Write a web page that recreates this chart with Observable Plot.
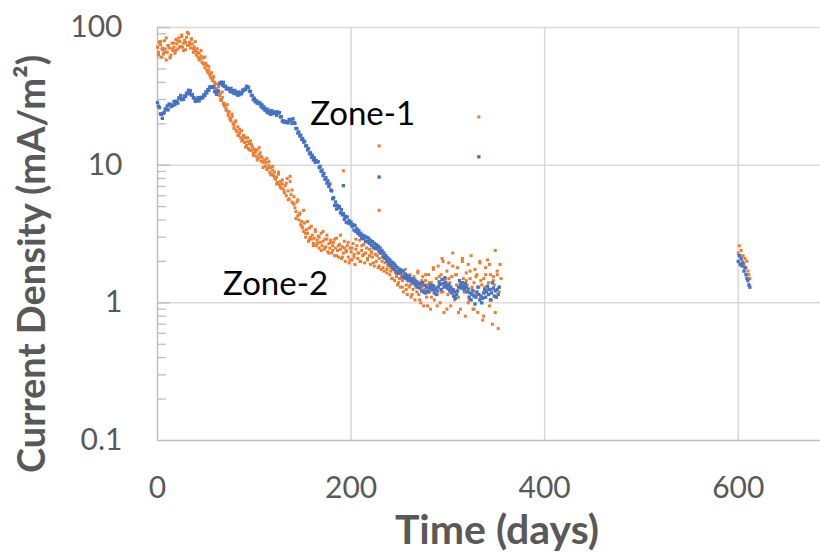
<!DOCTYPE html>
<html>
<head>
<meta charset="utf-8">
<script src="https://cdn.jsdelivr.net/npm/d3@7"></script>
<script src="https://cdn.jsdelivr.net/npm/@observablehq/plot@0.6"></script>
<style>
  html, body { margin: 0; padding: 0; background: #fff; }
  #chart { width: 820px; height: 554px; }
</style>
</head>
<body>
<div id="chart"></div>
<script>
// ---------- DATA ----------
// Zone-1 (blue): one reading per day, starting at day 0
const zone1Start = 0;
const zone1Values = [
  28.5, 26.8, 26.2, 23.6, 23.4, 21.9, 23.8, 24.2, 25.6, 25.4,
  26.9, 25.2, 27.8, 27.6, 26.6, 27.1, 27.2, 28.9, 27.5, 29.2,
  29.0, 28.2, 30.8, 30.4, 32.1, 29.9, 30.3, 30.1, 31.8, 31.6,
  33.4, 33.0, 35.0, 33.1, 34.7, 32.3, 32.6, 30.9, 30.7, 29.1,
  29.9, 29.4, 31.0, 29.3, 30.9, 30.5, 31.2, 30.9, 32.5, 32.1,
  34.0, 33.5, 35.4, 35.0, 37.0, 36.6, 37.1, 37.0, 36.7, 34.2,
  34.5, 32.7, 34.4, 34.5, 39.3, 39.5, 40.1, 38.1, 39.9, 37.3,
  37.6, 35.8, 36.4, 35.7, 35.8, 34.3, 36.1, 34.0, 34.7, 33.2,
  34.9, 33.0, 33.6, 32.2, 34.0, 32.6, 33.5, 33.1, 35.1, 34.7,
  35.6, 35.5, 37.4, 36.8, 36.8, 34.5, 34.3, 32.2, 32.0, 29.9,
  30.6, 28.9, 29.5, 28.2, 28.7, 27.9, 28.3, 26.6, 27.4, 25.9,
  26.5, 25.1, 25.6, 24.3, 25.4, 23.9, 24.5, 23.4, 24.9, 23.7,
  24.2, 23.8, 24.4, 23.0, 24.3, 23.9, 24.1, 22.4, 22.5, 20.9,
  21.0, 20.5, 20.8, 20.4, 20.6, 20.3, 21.5, 21.2, 21.4, 20.1,
  21.7, 20.4, 20.1, 18.5, 18.4, 17.1, 17.4, 16.3, 16.5, 15.4,
  15.6, 14.7, 14.9, 13.8, 13.9, 12.9, 13.2, 12.1, 12.3, 11.4,
  11.8, 10.9, 11.3, 10.5, 10.8, 10.6, 10.6, 9.6, 9.8, 9.0,
  9.2, 8.4, 8.7, 7.9, 8.1, 7.4, 7.7, 7.0, 7.3, 6.6,
  6.5, 5.7, 5.8, 5.1, 5.4, 4.8, 5.1, 4.9, 5.0, 4.5,
  4.75, 4.35, 4.45, 4.05, 4.25, 3.85, 4.2, 3.8, 3.95, 3.75,
  3.85, 3.6, 3.7, 3.38, 3.65, 3.3, 3.45, 3.2, 3.35, 3.1,
  3.2, 2.95, 3.1, 2.92, 3.05, 2.8, 3.0, 2.78, 2.95, 2.7,
  2.85, 2.62, 2.78, 2.52, 2.7, 2.48, 2.65, 2.5, 2.58, 2.36,
  2.5, 2.3, 2.4, 2.15, 2.3, 2.1, 2.2, 2.0, 2.12, 1.92,
  2.05, 1.88, 1.98, 1.8, 1.92, 1.74, 1.85, 1.68, 1.8, 1.64,
  1.75, 1.66, 1.72, 1.54, 1.7, 1.52, 1.62, 1.5, 1.58, 1.45,
  1.55, 1.46, 1.5, 1.42, 1.48, 1.38, 1.46, 1.35, 1.42, 1.3,
  1.38, 1.28, 1.36, 1.22, 1.4, 1.2, 1.34, 1.18, 1.3, 1.22,
  1.2, 1.28, 1.35, 1.3, 1.24, 1.33, 1.18, 1.26, 1.15, 1.22,
  1.3, 1.42, 1.36, 1.25, 1.48, 1.38, 1.3, 1.52, 1.4, 1.33,
  1.27, 1.35, 1.22, 1.3, 1.18, 1.25, 1.12, 1.2, 1.08, 1.15,
  1.22, 1.3, 1.45, 1.35, 1.28, 1.4, 1.32, 1.25, 1.38, 1.3,
  1.2, 1.26, 1.1, 1.18, 1.05, 1.15, 1.22, 1.12, 0.98, 1.1,
  1.2, 1.3, 1.15, 1.05, 1.12, 1.0, 1.08, 1.18, 1.25, 1.1,
  1.2, 1.32, 1.15, 1.25, 1.05, 1.18, 1.4, 1.28, 1.12, 1.22,
  1.1, 1.25, 1.15, 1.3
];

// Zone-2 (orange): one reading per day, starting at day 0
const zone2Start = 0;
const zone2Values = [
  72, 66, 78, 75, 61, 69, 64, 80, 70, 58,
  66, 74, 71, 60, 63, 77, 68, 72, 65, 82,
  76, 70, 84, 79, 73, 88, 72, 77, 81, 69,
  85, 74, 90, 78, 71, 82, 76, 66, 72, 68,
  63, 70, 61, 65, 59, 62, 56, 60, 54, 51,
  55, 49, 47, 52, 45, 43, 47, 41, 44, 38,
  39, 36, 34, 37, 32, 33, 29.5, 31, 28, 27,
  26.5, 25, 27.5, 23, 24.5, 22, 21, 23.5, 20, 19.5,
  20.5, 18, 17.5, 19, 16.4, 17.2, 15.8, 17.8, 15.2, 16,
  14.6, 15.8, 13.9, 14.8, 13.2, 14.3, 15, 12.8, 13.6, 12.2,
  13.1, 12.4, 11.6, 12.9, 11.2, 11.9, 12.3, 10.7, 11.4, 10.5,
  10.9, 9.8, 10.4, 11.2, 9.5, 9.9, 8.9, 9.6, 8.6, 9.2,
  8.4, 8.9, 7.9, 8.2, 7.5, 8.6, 7.2, 7.6, 6.8, 7.3,
  6.7, 6.3, 7.1, 6.0, 8.0, 6.5, 5.7, 7.6, 6.1, 5.4,
  5.3, 5.9, 4.9, 4.6, 5.4, 4.3, 4.0, 4.5, 3.7, 3.9,
  3.5, 3.3, 3.8, 3.0, 3.4, 3.2, 2.8, 3.5, 3.0, 2.9,
  3.1, 2.7, 2.95, 3.3, 2.6, 2.85, 3.05, 2.5, 2.75, 3.2,
  2.6, 2.8, 2.45, 2.9, 2.55, 3.1, 2.35, 2.7, 2.5, 2.85,
  2.3, 2.6, 2.75, 2.2, 2.5, 2.95, 2.4, 2.15, 2.65, 2.45,
  2.1, 2.55, 2.3, 2.8, 2.0, 2.4, 2.6, 2.15, 1.95, 2.5,
  2.35, 2.05, 2.7, 2.25, 1.9, 2.45, 2.6, 2.1, 2.3, 2.85,
  2.0, 2.4, 2.2, 2.65, 1.95, 2.3, 2.5, 2.05, 2.75, 2.2,
  1.9, 2.35, 2.15, 2.55, 1.85, 2.25, 2.0, 2.45, 1.8, 2.1,
  2.3, 1.75, 2.0, 2.2, 1.7, 1.95, 2.1, 1.65, 1.85, 2.0,
  1.6, 1.8, 1.5, 1.75, 1.95, 1.45, 1.65, 1.55, 1.35, 1.7,
  1.5, 1.3, 1.6, 1.45, 1.2, 1.55, 1.75, 1.35, 1.15, 1.45,
  1.3, 1.6, 1.1, 1.4, 1.25, 1.5, 1.05, 1.35, 1.2, 1.65,
  1.15, 1.4, 1.0, 1.3, 1.55, 0.95, 1.25, 1.45, 1.1, 1.35,
  1.6, 1.2, 0.9, 1.4, 1.3, 1.75, 1.05, 1.25, 1.5, 1.15,
  1.85, 1.35, 1.0, 1.6, 2.1, 1.2, 0.85, 1.45, 1.3, 1.7,
  1.15, 1.95, 1.4, 0.95, 1.55, 2.3, 1.25, 1.05, 1.6, 1.35,
  1.8, 1.1, 1.45, 0.9, 1.3, 2.0, 1.5, 1.2, 0.8, 1.65,
  1.35, 1.9, 1.05, 1.5, 2.2, 1.25, 0.9, 1.4, 1.75, 1.15,
  1.6, 0.85, 1.3, 1.95, 1.45, 1.1, 0.75, 1.5, 1.3, 1.8,
  1.2, 2.05, 1.4, 0.95, 1.6, 1.25, 0.7, 1.55, 1.35, 2.4,
  1.1, 1.7, 0.65, 1.3, 1.9
];

// Zone-2 (orange): second reading every other day, starting at day 1
const zone2bStart = 1, zone2bStep = 2;
const zone2bValues = [
  63, 79, 71, 66, 84, 74, 61, 70, 77, 68,
  80, 72, 86, 68, 78, 92, 75, 83, 70, 79,
  66, 58, 68, 55, 61, 53, 49, 46, 42, 40,
  35, 38, 30, 34, 28, 25.5, 24, 21.5, 22.5, 18.5,
  21, 16.5, 18.2, 15, 16.5, 13.5, 15.8, 12.9, 14.1, 11.8,
  12.8, 10.9, 13.4, 11.5, 9.6, 10.8, 9.3, 10.6, 8.5, 9.8,
  8.1, 7.3, 8.9, 6.9, 7.8, 6.4, 7.4, 5.6, 8.3, 6.6,
  5.2, 4.1, 5.6, 4.4, 3.6, 4.7, 3.2, 3.9, 2.9, 3.6,
  2.6, 3.4, 2.7, 3.0, 2.4, 3.3, 2.5, 2.9, 2.3, 2.75,
  2.4, 2.9, 2.2, 2.6, 3.1, 2.15, 2.5, 2.35, 2.75, 2.05,
  2.5, 2.15, 2.9, 2.3, 2.0, 2.6, 2.25, 2.8, 2.1, 2.45,
  2.3, 1.95, 2.6, 2.2, 1.85, 2.35, 1.8, 2.15, 1.75, 1.95,
  1.7, 1.5, 1.9, 1.6, 1.4, 1.75, 1.3, 1.6, 1.25, 1.5,
  1.35, 1.15, 1.55, 1.3, 1.7, 1.05, 1.45, 1.2, 1.6, 0.95,
  1.4, 1.1, 1.8, 1.3, 0.95, 1.55, 1.2, 2.0, 1.35, 0.9,
  1.5, 1.25, 1.85, 1.1, 1.6, 0.85, 1.4, 2.1, 1.2, 1.45,
  1.0, 1.7, 1.3, 0.9, 1.55, 1.15, 2.0, 1.35, 0.8, 1.6,
  1.25, 1.9, 1.05, 1.45, 0.85, 1.6, 1.2, 1.5
];

// Late readings around day 600
const lateDays   = [600, 601, 602, 603, 604, 605, 606, 607, 608, 609, 610, 611, 612];
const lateZone1  = [2.0, 2.2, 1.9, 2.1, 1.85, 1.95, 1.7, 1.8, 1.6, 1.5, 1.45, 1.35, 1.3];
const lateZone2  = [2.3, 2.6, 2.2, 2.4, 2.0, 2.2, 1.9, 2.1, 1.8, 2.0, 1.7, 1.6, 1.5];

// Isolated points
const strayZone1Days   = [192, 229, 332];
const strayZone1Values = [7.1, 8.2, 11.5];
const strayZone2Days   = [192, 229, 229, 332];
const strayZone2Values = [9.1, 13.8, 4.7, 22.4];

// Labels
const labelNames  = ["Zone-1", "Zone-2"];
const labelDays   = [212, 122];
const labelValues = [23.2, 1.35];

// Axes
const xTicks = [0, 200, 400, 600];
const yTicks = [0.1, 1, 10, 100];
const yTickLabels = ["0.1", "1", "10", "100"];
const yMinor = [0.2,0.3,0.4,0.5,0.6,0.7,0.8,0.9, 2,3,4,5,6,7,8,9, 20,30,40,50,60,70,80,90];

const BLUE = "#4472C4", ORANGE = "#ED7D31";

// ---------- BUILD ----------
const zone1 = zone1Values.map((v, i) => ({day: zone1Start + i, value: v}))
  .concat(lateDays.map((d, i) => ({day: d, value: lateZone1[i]})))
  .concat(strayZone1Days.map((d, i) => ({day: d, value: strayZone1Values[i]})));
const zone2 = zone2Values.map((v, i) => ({day: zone2Start + i, value: v}))
  .concat(zone2bValues.map((v, i) => ({day: zone2bStart + zone2bStep * i, value: v})))
  .concat(lateDays.map((d, i) => ({day: d, value: lateZone2[i]})))
  .concat(strayZone2Days.map((d, i) => ({day: d, value: strayZone2Values[i]})));
const labels = labelNames.map((t, i) => ({text: t, day: labelDays[i], value: labelValues[i]}));

const W = 820, H = 554, ML = 157, MR = 0, MT = 27, MB = 114;
const plotW = W - ML - MR;
const FONT = "Lato, 'Open Sans', sans-serif";

const chart = Plot.plot({
  width: W, height: H,
  marginLeft: ML, marginRight: MR, marginTop: MT, marginBottom: MB,
  style: {fontFamily: FONT, background: "#fff"},
  x: {domain: [0, 685]},
  y: {type: "log", domain: [0.1, 100]},
  marks: [
    Plot.ruleY([1, 10, 100], {stroke: "#d9d9d9", strokeWidth: 1.5}),
    Plot.ruleX([200, 400, 600], {stroke: "#d9d9d9", strokeWidth: 1.5}),
    Plot.tickY(yMinor, {stroke: "#bfbfbf", strokeWidth: 1.3, insetRight: plotW - 9}),
    Plot.tickY([1, 10, 100], {stroke: "#bfbfbf", strokeWidth: 1.5, insetRight: plotW - 13}),
    Plot.ruleX([0], {stroke: "#bfbfbf", strokeWidth: 1.5}),
    Plot.ruleY([0.1], {stroke: "#bfbfbf", strokeWidth: 1.5}),
    Plot.axisX({ticks: xTicks, tickSize: 0, tickPadding: 36, fontSize: 30, fill: "#595959", label: null}),
    Plot.axisY({ticks: yTicks, tickFormat: (d) => yTickLabels[yTicks.indexOf(d)], tickSize: 0, tickPadding: 35, fontSize: 30, fill: "#595959", label: null}),
    Plot.dot(zone2, {x: "day", y: "value", symbol: "square", r: 1.7, fill: ORANGE, stroke: null}),
    Plot.dot(zone1, {x: "day", y: "value", symbol: "square", r: 1.9, fill: BLUE, stroke: null}),
    Plot.text(labels, {x: "day", y: "value", text: "text", fontSize: 33, fill: "#000"}),
    Plot.text(["Current Density (mA/m²)"], {frameAnchor: "left", dx: -125, dy: 30, rotate: -90, textAnchor: "middle", lineAnchor: "middle", fontSize: 38, fontWeight: "bold", fill: "#595959"}),
    Plot.text(["Time (days)"], {frameAnchor: "bottom", dx: 8, dy: 90, textAnchor: "middle", lineAnchor: "middle", fontSize: 41, fontWeight: "bold", fill: "#595959"})
  ]
});
document.getElementById("chart").appendChild(chart);
</script>
</body>
</html>
